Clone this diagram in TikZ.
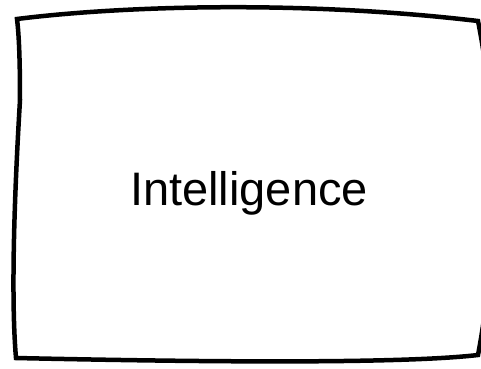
\documentclass[tikz,border=0pt]{standalone}
\usepackage{fontspec}
\setmainfont{Liberation Sans}
\begin{document}
\begin{tikzpicture}[x=1pt,y=-1pt,
  sketch/.style={draw=black,line width=4.5pt,line join=miter}]
\useasboundingbox (0,0) rectangle (481,368);
\draw[sketch] (17,19) .. controls (120,6) and (300,0) .. (478,21)
  .. controls (498,120) and (498,250) .. (478,355)
  .. controls (400,364) and (200,362) .. (16,358)
  .. controls (11,300) and (14,200) .. (20,100)
  .. controls (20,60) and (19,35) .. (17,19) -- cycle;
\node[font=\fontsize{47}{56}\selectfont] (lbl) at (249,193) {Intelligence};
\end{tikzpicture}
\end{document}
